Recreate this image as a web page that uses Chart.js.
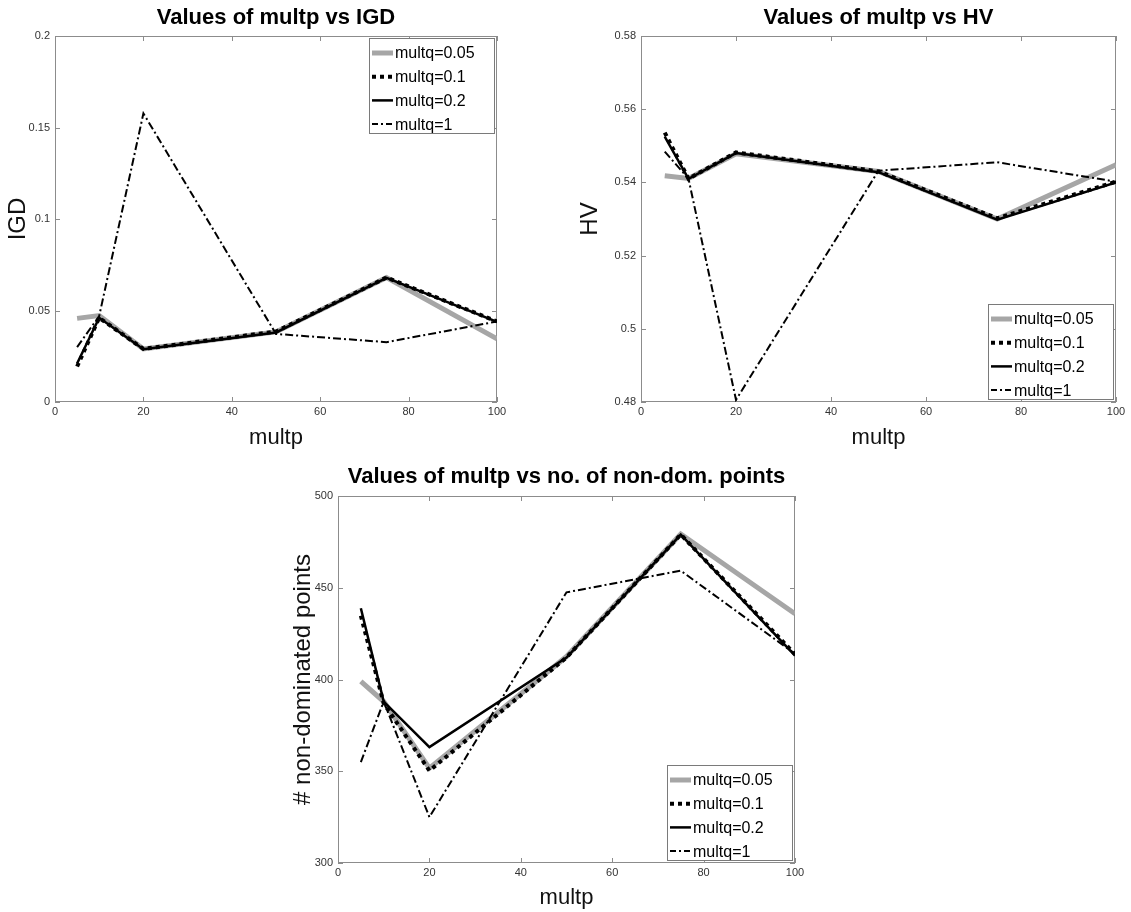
<!DOCTYPE html>
<html>
<head>
<meta charset="utf-8">
<script src="https://cdn.jsdelivr.net/npm/chart.js@4.4.0/dist/chart.umd.min.js"></script>
<style>
  body { margin: 0; background: #fff; width: 1131px; height: 912px; position: relative; overflow: hidden; }
  canvas { position: absolute; }
</style>
</head>
<body>
<canvas id="igdChart" width="515" height="456" style="left:0;top:0"></canvas>
<canvas id="hvChart" width="561" height="456" style="left:570px;top:0"></canvas>
<canvas id="ndChart" width="520" height="457" style="left:290px;top:455px"></canvas>
<script>
// x values (multp) and series labels
const multp = [5, 10, 20, 50, 75, 100];
const seriesLabels = ['multq=0.05', 'multq=0.1', 'multq=0.2', 'multq=1'];

// IGD
const igdQ005 = [0.0457, 0.0472, 0.0290, 0.0383, 0.0680, 0.0345];
const igdQ01  = [0.0194, 0.0460, 0.0290, 0.0385, 0.0680, 0.0440];
const igdQ02  = [0.0210, 0.0460, 0.0288, 0.0380, 0.0678, 0.0438];
const igdQ1   = [0.0300, 0.0470, 0.1577, 0.0372, 0.0327, 0.0440];

// HV
const hvQ005 = [0.5418, 0.5411, 0.5478, 0.5430, 0.5300, 0.5448];
const hvQ01  = [0.5536, 0.5410, 0.5482, 0.5430, 0.5302, 0.5402];
const hvQ02  = [0.5525, 0.5410, 0.5480, 0.5428, 0.5298, 0.5400];
const hvQ1   = [0.5484, 0.5410, 0.4806, 0.5432, 0.5455, 0.5402];

// number of non-dominated points
const ndQ005 = [399, 388, 351.7, 412.5, 479.3, 435.8];
const ndQ01  = [434.8, 387, 350.3, 412, 479, 413.8];
const ndQ02  = [438.8, 388, 363.2, 412, 479, 413];
const ndQ1   = [355, 388, 325, 447.5, 459.3, 414];

// tick labels
const xTicks = [0, 20, 40, 60, 80, 100];
const igdTicks = [0, 0.05, 0.1, 0.15, 0.2];
const hvTicks = [0.48, 0.5, 0.52, 0.54, 0.56, 0.58];
const ndTicks = [300, 350, 400, 450, 500];

const FONT = "'Liberation Sans', Arial, Helvetica, sans-serif";

// line styles, matlab-ish
const styles = [
  { borderColor: '#a6a6a6', borderWidth: 5, borderDash: [], order: 4 },
  { borderColor: '#000', borderWidth: 4, borderDash: [4, 4], order: 3 },
  { borderColor: '#000', borderWidth: 2.5, borderDash: [], order: 2 },
  { borderColor: '#000', borderWidth: 2, borderDash: [8, 3, 2, 3], order: 1 }
];

function makeDatasets(seriesList) {
  return seriesList.map((vals, i) => ({
    label: seriesLabels[i],
    data: vals.map((v, j) => ({ x: multp[j], y: v })),
    borderColor: styles[i].borderColor,
    borderWidth: styles[i].borderWidth,
    borderDash: styles[i].borderDash,
    order: styles[i].order,
    pointRadius: 0,
    tension: 0,
    fill: false
  }));
}

// box + inward ticks on all four sides
const framePlugin = {
  id: 'frame',
  beforeDatasetsDraw(chart) {
    const { ctx, chartArea: a, scales } = chart;
    ctx.save();
    ctx.strokeStyle = '#8c8c8c';
    ctx.lineWidth = 1;
    ctx.strokeRect(a.left + 0.5, a.top + 0.5, a.width - 1, a.height - 1);
    ctx.beginPath();
    scales.x.ticks.forEach(t => {
      const px = Math.round(scales.x.getPixelForValue(t.value)) + 0.5;
      ctx.moveTo(px, a.bottom); ctx.lineTo(px, a.bottom - 5);
      ctx.moveTo(px, a.top); ctx.lineTo(px, a.top + 5);
    });
    scales.y.ticks.forEach(t => {
      const py = Math.round(scales.y.getPixelForValue(t.value)) + 0.5;
      ctx.moveTo(a.left, py); ctx.lineTo(a.left + 5, py);
      ctx.moveTo(a.right, py); ctx.lineTo(a.right - 5, py);
    });
    ctx.stroke();
    ctx.restore();
  }
};

// legend box inside the plot area
const boxLegend = {
  id: 'boxLegend',
  afterDatasetsDraw(chart, args, opts) {
    const { ctx, chartArea: a } = chart;
    const w = 125, h = 95;
    const right = a.right - 3;
    const left = right - w;
    const top = opts.corner === 'ne' ? a.top + 2 : a.bottom - 3 - h;
    ctx.save();
    ctx.fillStyle = '#fff';
    ctx.fillRect(left, top, w, h);
    ctx.strokeStyle = '#7a7a7a';
    ctx.lineWidth = 1;
    ctx.setLineDash([]);
    ctx.strokeRect(left + 0.5, top + 0.5, w, h);
    ctx.font = '16px ' + FONT;
    ctx.textBaseline = 'middle';
    ctx.fillStyle = '#000';
    chart.data.datasets.forEach((ds, i) => {
      const y = top + 15 + i * 23.7;
      ctx.beginPath();
      ctx.strokeStyle = ds.borderColor;
      ctx.lineWidth = ds.borderWidth;
      ctx.setLineDash(i === 3 ? [6, 3, 2, 3] : ds.borderDash);
      ctx.moveTo(left + 3, y);
      ctx.lineTo(left + 24, y);
      ctx.stroke();
      ctx.setLineDash([]);
      ctx.fillText(ds.label, left + 26, y + 1);
    });
    ctx.restore();
  }
};

function makeChart(id, cfg) {
  const ctx = document.getElementById(id).getContext('2d');
  return new Chart(ctx, {
    type: 'line',
    data: { datasets: makeDatasets(cfg.series) },
    plugins: [framePlugin, boxLegend],
    options: {
      responsive: false,
      animation: false,
      layout: { padding: { left: 0, top: 0, right: cfg.padRight, bottom: 0 } },
      plugins: {
        legend: { display: false },
        tooltip: { enabled: false },
        title: {
          display: true,
          text: cfg.title,
          fullSize: false,
          color: '#000',
          font: { family: FONT, size: 22, weight: 'bold', lineHeight: 1.2 },
          padding: cfg.titlePad
        },
        boxLegend: { corner: cfg.corner }
      },
      scales: {
        x: {
          type: 'linear',
          min: 0,
          max: 100,
          grid: { display: false, drawTicks: false },
          border: { display: false },
          afterBuildTicks: axis => { axis.ticks = xTicks.map(v => ({ value: v })); },
          afterFit: axis => { axis.height = cfg.xHeight; },
          ticks: {
            padding: 3,
            color: '#333',
            font: { family: FONT, size: 11 },
            maxRotation: 0,
            callback: v => String(v)
          },
          title: {
            display: true,
            text: 'multp',
            color: '#111',
            font: { family: FONT, size: 22, lineHeight: 1.2 },
            padding: { top: 0, bottom: cfg.xTitlePad }
          }
        },
        y: {
          type: 'linear',
          min: cfg.yTicks[0],
          max: cfg.yTicks[cfg.yTicks.length - 1],
          grid: { display: false, drawTicks: false },
          border: { display: false },
          afterBuildTicks: axis => { axis.ticks = cfg.yTicks.map(v => ({ value: v })); },
          afterFit: axis => { axis.width = cfg.yWidth; },
          ticks: {
            padding: 5,
            color: '#333',
            font: { family: FONT, size: 11 },
            callback: v => String(v)
          },
          title: {
            display: true,
            text: cfg.yTitle,
            color: '#111',
            font: { family: FONT, size: 24, lineHeight: 1 },
            padding: { top: cfg.yTitlePad, bottom: 0 }
          }
        }
      }
    }
  });
}

makeChart('igdChart', {
  series: [igdQ005, igdQ01, igdQ02, igdQ1],
  title: 'Values of multp vs IGD',
  yTitle: 'IGD',
  yTicks: igdTicks,
  corner: 'ne',
  padRight: 18,
  yWidth: 55,
  xHeight: 54,
  titlePad: { top: 5, bottom: 4.6 },
  xTitlePad: 5,
  yTitlePad: 6
});

makeChart('hvChart', {
  series: [hvQ005, hvQ01, hvQ02, hvQ1],
  title: 'Values of multp vs HV',
  yTitle: 'HV',
  yTicks: hvTicks,
  corner: 'se',
  padRight: 15,
  yWidth: 71,
  xHeight: 54,
  titlePad: { top: 5, bottom: 4.6 },
  xTitlePad: 5,
  yTitlePad: 8
});

makeChart('ndChart', {
  series: [ndQ005, ndQ01, ndQ02, ndQ1],
  title: 'Values of multp vs no. of non-dom. points',
  yTitle: '# non-dominated points',
  yTicks: ndTicks,
  corner: 'se',
  padRight: 15,
  yWidth: 48,
  xHeight: 49,
  titlePad: { top: 8.8, bottom: 5.8 },
  xTitlePad: 1,
  yTitlePad: 1
});
</script>
</body>
</html>
